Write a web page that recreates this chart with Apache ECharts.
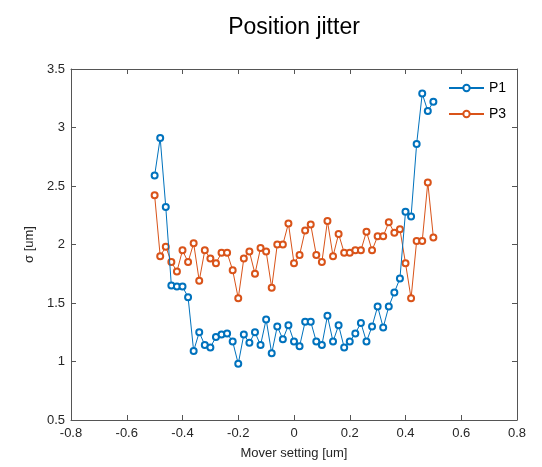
<!DOCTYPE html>
<html>
<head>
<meta charset="utf-8">
<script src="https://cdn.jsdelivr.net/npm/echarts@6/dist/echarts.min.js"></script>
<style>
html,body{margin:0;padding:0;background:#fff;}
#c{width:542px;height:467px;}
</style>
</head>
<body>
<div id="c"></div>
<script>
var titleText = 'Position jitter';
var xLabel = 'Mover setting [um]';
var yLabel = 'σ [um]';
var seriesNames = ['P1', 'P3'];
var xs = [-0.5,-0.48,-0.46,-0.44,-0.42,-0.4,-0.38,-0.36,-0.34,-0.32,-0.3,-0.28,-0.26,-0.24,-0.22,-0.2,-0.18,-0.16,-0.14,-0.12,-0.1,-0.08,-0.06,-0.04,-0.02,0,0.02,0.04,0.06,0.08,0.1,0.12,0.14,0.16,0.18,0.2,0.22,0.24,0.26,0.28,0.3,0.32,0.34,0.36,0.38,0.4,0.42,0.44,0.46,0.48,0.5];
var p1 = [2.59,2.91,2.32,1.65,1.64,1.64,1.55,1.09,1.25,1.14,1.12,1.21,1.23,1.24,1.17,0.98,1.23,1.16,1.25,1.14,1.36,1.07,1.30,1.19,1.31,1.17,1.13,1.34,1.34,1.17,1.14,1.39,1.17,1.31,1.12,1.17,1.24,1.33,1.17,1.30,1.47,1.29,1.47,1.59,1.71,2.28,2.24,2.86,3.29,3.14,3.22];
var p3 = [2.42,1.90,1.98,1.85,1.77,1.95,1.85,2.01,1.69,1.95,1.88,1.84,1.93,1.93,1.78,1.54,1.88,1.94,1.75,1.97,1.94,1.63,2.00,2.00,2.18,1.84,1.91,2.12,2.17,1.91,1.85,2.20,1.90,2.09,1.93,1.93,1.95,1.95,2.11,1.95,2.07,2.07,2.19,2.10,2.13,1.84,1.54,2.03,2.03,2.53,2.06];

function pairs(ys){ return xs.map(function(x,i){ return [x, ys[i]]; }); }

var axisColor = '#555';
var font = 'Liberation Sans, Arial, sans-serif';

var chart = echarts.init(document.getElementById('c'), null, {renderer:'canvas'});
var tickCommon = {show:true, inside:true, length:5, lineStyle:{color:axisColor, width:1}};
chart.setOption({
  animation:false,
  backgroundColor:'#fff',
  graphic:[{
    type:'text', x:294, y:28,
    style:{text:titleText, fontFamily:font, fontSize:23, fill:'#000', textAlign:'center', textVerticalAlign:'middle'}
  }],
  legend:{
    data:seriesNames, orient:'vertical', left:443, top:76, itemWidth:35, itemHeight:8, itemGap:12,
    textStyle:{fontFamily:font, fontSize:14, color:'#000'}
  },
  grid:{left:71, right:25, top:69, bottom:47, show:false},
  xAxis:[{
    type:'value', min:-0.8, max:0.8, interval:0.2, position:'bottom',
    name:xLabel, nameLocation:'middle', nameGap:27,
    nameTextStyle:{fontFamily:font, fontSize:13, color:'#262626'},
    axisLine:{show:true, onZero:false, lineStyle:{color:axisColor, width:1}},
    axisTick:tickCommon,
    axisLabel:{fontFamily:font, fontSize:13, color:'#262626', margin:7},
    splitLine:{show:false}
  },{
    type:'value', min:-0.8, max:0.8, interval:0.2, position:'top',
    axisLine:{show:true, onZero:false, lineStyle:{color:axisColor, width:1}},
    axisTick:tickCommon, axisLabel:{show:false}, splitLine:{show:false}
  }],
  yAxis:[{
    type:'value', min:0.5, max:3.5, interval:0.5, position:'left',
    name:yLabel, nameLocation:'middle', nameGap:30,
    nameTextStyle:{fontFamily:font, fontSize:13, color:'#262626'},
    axisLine:{show:true, onZero:false, lineStyle:{color:axisColor, width:1}},
    axisTick:tickCommon,
    axisLabel:{fontFamily:font, fontSize:13, color:'#262626', margin:6},
    splitLine:{show:false}
  },{
    type:'value', min:0.5, max:3.5, interval:0.5, position:'right',
    axisLine:{show:true, onZero:false, lineStyle:{color:axisColor, width:1}},
    axisTick:tickCommon, axisLabel:{show:false}, splitLine:{show:false}
  }],
  series:[{
    name:seriesNames[0], type:'line', data:pairs(p1),
    symbol:'emptyCircle', symbolSize:6, showAllSymbol:true,
    lineStyle:{color:'#0072BD', width:1}, itemStyle:{color:'#0072BD', borderWidth:1},
    z:3
  },{
    name:seriesNames[1], type:'line', data:pairs(p3),
    symbol:'emptyCircle', symbolSize:6, showAllSymbol:true,
    lineStyle:{color:'#D95319', width:1}, itemStyle:{color:'#D95319', borderWidth:1},
    z:2
  }]
});
</script>
</body>
</html>
